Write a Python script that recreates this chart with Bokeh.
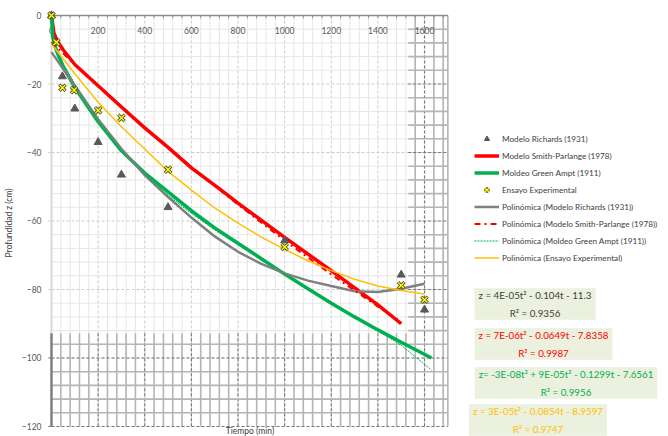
from bokeh.plotting import figure
from bokeh.models import Range1d, FixedTicker, Legend, LegendItem, Label
from bokeh.core.properties import value
from bokeh.embed import file_html
from bokeh.resources import INLINE

# ---------------- data ----------------
rich_t = [0, 47, 100, 200, 300, 500, 1000, 1500, 1600]
rich_z = [0, -17.8, -27.2, -37, -46.5, -56, -65.7, -75.7, -85.9]

sp_t = [0, 10, 25, 50, 100, 200, 300, 400, 500, 600, 728, 800, 1000, 1200, 1400, 1500]
sp_z = [0, -5, -7.5, -10, -14.3, -20.5, -26.7, -32.8, -38.5, -44.5, -51, -54.8, -64.8, -74.5, -84.5, -90]

ga_t = [0, 5, 20, 50, 100, 200, 300, 400, 500, 600, 700, 800, 900, 1000, 1100, 1200, 1300, 1400, 1500, 1630]
ga_z = [0, -6, -10, -15, -21, -31, -39.5, -46, -51.5, -57, -62, -66.5, -71, -75.5, -79.8, -84, -88, -91.8, -95.4, -100]

exp_t = [0, 21, 47, 97, 200, 300, 500, 1000, 1500, 1600]
exp_z = [0, -7.8, -21.1, -21.8, -27.7, -29.9, -45, -67.6, -78.8, -83]

poly_rich_t = [0, 100, 200, 300, 400, 500, 600, 700, 800, 900, 1000, 1100, 1200, 1300, 1400, 1500, 1600]
poly_rich_z = [-10.7, -20.5, -30.3, -38.9, -46.6, -53, -59, -64.5, -69, -72.5, -75.3, -77.4, -79, -80.5, -80.7, -79.8, -78.3]

poly_sp_t = [0, 100, 200, 400, 600, 800, 1000, 1200, 1400, 1500]
poly_sp_z = [-7.8, -14.3, -20.5, -32.7, -44.2, -55.2, -65.7, -75.6, -85, -89.4]

poly_ga_t = [0, 100, 200, 300, 400, 500, 600, 700, 800, 900, 1000, 1100, 1200, 1300, 1400, 1500, 1630]
poly_ga_z = [-7.7, -20, -30.5, -39.3, -46.5, -52.5, -57.8, -62.6, -67, -71.3, -75.4, -79.5, -83.6, -87.8, -92, -96.3, -103.5]

poly_exp_t = [0, 100, 200, 300, 400, 500, 600, 700, 800, 900, 1000, 1100, 1200, 1300, 1400, 1500, 1600]
poly_exp_z = [-8.3, -17, -25.3, -32.5, -39, -45.5, -51, -56.2, -60.6, -64.7, -68.3, -71.6, -74.5, -77, -79, -80.3, -81.3]

x_ticks = [0, 200, 400, 600, 800, 1000, 1200, 1400, 1600]
x_tick_labels = [str(t) for t in x_ticks]
y_ticks = [0, -20, -40, -60, -80, -100, -120]

legend_labels = ["Modelo Richards (1931)", "Modelo Smith-Parlange (1978)",
                 "Moldeo Green Ampt (1911)", "Ensayo Experimental",
                 "Polinómica (Modelo Richards (1931))",
                 "Polinómica (Modelo Smith-Parlange (1978))",
                 "Polinómica (Moldeo Green Ampt (1911))",
                 "Polinómica (Ensayo Experimental)"]

equations = [
    ("z = 4E-05t² - 0.104t - 11.3\nR² = 0.9356", "#404040"),
    ("z = 7E-06t² - 0.0649t - 7.8358\nR² = 0.9987", "#ff0000"),
    ("z= -3E-08t³ + 9E-05t² - 0.1299t - 7.6561\nR² = 0.9956", "#00b050"),
    ("z = 3E-05t² - 0.0854t - 8.9597\nR² = 0.9747", "#ffc000"),
]

FONT = "Lato"
T_MAX = 1700
Z_MIN = -120

# frame spans the full area right of the y axis so that the legend and the
# equation boxes (drawn in screen units) are not clipped
p = figure(width=668, height=436, output_backend="svg", toolbar_location=None,
           x_range=Range1d(-34.26, 2646.4), y_range=Range1d(-122.92, 1.752),
           x_axis_location=None,
           min_border_left=42, min_border_right=0, min_border_top=9, min_border_bottom=0)
p.grid.visible = False
p.outline_line_color = None
p.background_fill_color = "white"
p.border_fill_color = "white"

# ---------------- grid (light + dark artefact regions) ----------------
minor_x = list(range(40, T_MAX, 40))
minor_z = list(range(-4, Z_MIN - 1, -4))
z_b = -92.8   # top of dark bottom band
t_r = 1530    # left of dark right band

def seg(x0, y0, x1, y1, color, width, dash="solid"):
    p.segment(x0=x0, y0=y0, x1=x1, y1=y1, line_color=color, line_width=width, line_dash=dash)

# light
lv = [t for t in minor_x if t % 200]
seg(lv, [0]*len(lv), lv, [Z_MIN]*len(lv), "#e6e6e6", 1)
mx = [t for t in minor_x if t % 200 == 0]
seg(mx, [0]*len(mx), mx, [Z_MIN]*len(mx), "#cccccc", 1, "3 2")
hz = [z for z in minor_z if z % 20]
seg([0]*len(hz), hz, [T_MAX]*len(hz), hz, "#e6e6e6", 1)
hzm = [z for z in minor_z if z % 20 == 0]
seg([0]*len(hzm), hzm, [T_MAX]*len(hzm), hzm, "#cccccc", 1, "3 2")

# dark bottom band
seg(lv, [z_b]*len(lv), lv, [Z_MIN]*len(lv), "#b5b5b5", 1.6)
seg(mx, [z_b]*len(mx), mx, [Z_MIN]*len(mx), "#7a7a7a", 1.2, "3 2")
bh = [z for z in minor_z if z < z_b]
bhs = [z for z in bh if z % 20]
bhm = [z for z in bh if z % 20 == 0]
seg([0]*len(bhs), bhs, [T_MAX]*len(bhs), bhs, "#b5b5b5", 1.6)
seg([0]*len(bhm), bhm, [T_MAX]*len(bhm), bhm, "#7a7a7a", 1.2, "3 2")

# dark right band
rv = [t for t in minor_x if t > t_r]
rvs = [t for t in rv if t % 200]
rvm = [t for t in rv if t % 200 == 0]
seg(rvs, [0]*len(rvs), rvs, [z_b]*len(rvs), "#b5b5b5", 1.6)
seg(rvm, [0]*len(rvm), rvm, [z_b]*len(rvm), "#7a7a7a", 1.2, "3 2")
rh = [z for z in minor_z if z > z_b]
rhs = [z for z in rh if z % 20]
rhm = [z for z in rh if z % 20 == 0]
seg([t_r]*len(rhs), rhs, [T_MAX]*len(rhs), rhs, "#b5b5b5", 1.6)
seg([t_r]*len(rhm), rhm, [T_MAX]*len(rhm), rhm, "#7a7a7a", 1.2, "3 2")
seg([T_MAX], [0], [T_MAX], [Z_MIN], "#b5b5b5", 1.6)

# axis lines drawn at t=0 / z=0
seg([0], [0], [T_MAX], [0], "#8c8c8c", 1.5)
tk = [0] + minor_x
seg(tk, [0]*len(tk), tk, [-0.8]*len(tk), "#8c8c8c", 1)
seg([0], [0], [0], [z_b], "#d9d9d9", 2)
seg([0], [z_b], [0], [Z_MIN], "#7f7f7f", 2.5)
yl = [z for z in y_ticks if z > z_b]
yd = [z for z in y_ticks if z < z_b]
seg([-14]*len(yl), yl, [0]*len(yl), yl, "#d0d0d0", 1)
seg([-14]*len(yd), yd, [0]*len(yd), yd, "#7f7f7f", 1.2)

# x tick labels under the top axis line
p.text(x=x_ticks, y=[-4.4]*len(x_ticks), text=x_tick_labels, text_align="center",
       text_baseline="middle", text_font=value(FONT), text_font_size="8.5px",
       text_color="#595959")

# ---------------- series ----------------
r_sp = p.line(sp_t, sp_z, line_color="#ff0000", line_width=3.5)
r_ga = p.line(ga_t, ga_z, line_color="#00b050", line_width=3.5)
r_prich = p.line(poly_rich_t, poly_rich_z, line_color="#808080", line_width=2.5)
r_psp = p.line(poly_sp_t, poly_sp_z, line_color="#ff0000", line_width=2, line_dash="dashdot")
r_pga = p.line(poly_ga_t, poly_ga_z, line_color="#00b050", line_width=1, line_dash="2 1")
r_pexp = p.line(poly_exp_t, poly_exp_z, line_color="#ffc000", line_width=1.5)
r_rich = p.scatter(rich_t, rich_z, marker="triangle", size=8, fill_color="#595959", line_color="#595959")
r_exp1 = p.scatter(exp_t, exp_z, marker="x", size=9, line_color="#4d4d2a", line_width=3.2)
r_exp2 = p.scatter(exp_t, exp_z, marker="x", size=8, line_color="#ffff00", line_width=1.4)

# ---------------- y axis ----------------
p.yaxis.ticker = FixedTicker(ticks=y_ticks)
p.yaxis.axis_line_color = None
p.yaxis.major_tick_out = 0
p.yaxis.major_tick_in = 0
p.yaxis.minor_tick_out = 0
p.yaxis.minor_tick_in = 0
p.yaxis.major_label_standoff = 2
p.yaxis.major_label_text_font = FONT
p.yaxis.major_label_text_font_size = "8.5px"
p.yaxis.major_label_text_color = "#595959"
p.yaxis.axis_label = "Profundidad z (cm)"
p.yaxis.axis_label_text_font = FONT
p.yaxis.axis_label_text_font_size = "8.5px"
p.yaxis.axis_label_text_font_style = "normal"
p.yaxis.axis_label_text_color = "#404040"
p.yaxis.axis_label_standoff = 5

# x-axis title at the bottom edge (kept fully inside the picture)
p.add_layout(Label(x=206.5, y=1, x_units="screen", y_units="screen", text="Tiempo (min)",
                   text_align="center", text_baseline="bottom", text_font=FONT,
                   text_font_size="8.5px", text_color="#404040"))

# ---------------- legend ----------------
rend = [[r_rich], [r_sp], [r_ga], [r_exp1, r_exp2], [r_prich], [r_psp], [r_pga], [r_pexp]]
items = [LegendItem(label=l, renderers=r) for l, r in zip(legend_labels, rend)]
leg = Legend(items=items, location=(431, 172), orientation="vertical",
             padding=0, margin=0, spacing=4, glyph_width=25, glyph_height=13,
             label_height=13, label_standoff=3, border_line_color=None,
             background_fill_alpha=0, label_text_font=FONT,
             label_text_font_size="8.2px", label_text_color="#404040")
p.add_layout(leg, "center")

# ---------------- equation boxes ----------------
eq_cx = [491.5, 500, 522.5, 494.5]
eq_cy = [132.5, 92.5, 53.5, 16.5]
for (txt, col), cx, cy in zip(equations, eq_cx, eq_cy):
    p.add_layout(Label(x=cx, y=cy, x_units="screen", y_units="screen", text=txt,
                       text_align="center", text_baseline="middle", text_font=FONT,
                       text_font_size="9.75px", text_color=col, text_line_height=1.45,
                       background_fill_color="#ebf1de",
                       padding=dict(left=4, right=4, top=1, bottom=1)))

open("out.html", "w").write(file_html(p, INLINE))
